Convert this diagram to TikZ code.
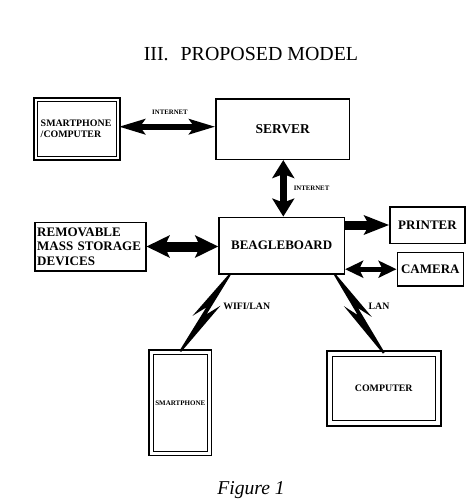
\documentclass[tikz,border=0pt]{standalone}
\usepackage{fontspec}
\setmainfont{Liberation Serif}
\usetikzlibrary{arrows.meta, calc}
\tikzset{
  every picture/.style={line width=1.6pt},
  box/.style={draw, inner sep=0pt, align=center, font=\bfseries\fontsize{13}{14.4}\selectfont},
  dbox/.style={box, double, double distance=#1, line width=1.5pt},
  dbox/.default=2.2pt,
  link/.style={font=\bfseries\fontsize{9.8}{11}\selectfont, inner sep=0pt},
  tag/.style={font=\bfseries\fontsize{6.8}{8}\selectfont, inner sep=0pt},
  twoway/.style n args={4}{line width=#1, >={Stealth[length=#2, width=#3, inset=#4]}, <->},
  oneway/.style n args={4}{line width=#1, >={Stealth[length=#2, width=#3, inset=#4]}, ->},
}

\begin{document}
\begin{tikzpicture}[x=1pt, y=-1pt]
  \newcommand{\boltlink}[3]{% from, to, side of the upper point (90 or -90)
    \fill ($(#1)!0!(#2)!1pt!#3:(#2)$) -- ($(#1)!0.5!(#2)!2pt!#3:(#2)$)
      -- ($(#1)!0.34!(#2)!9pt!#3:(#2)$) -- ($(#1)!1!(#2)!-1pt!#3:(#1)$)
      -- ($(#1)!1!(#2)!1pt!#3:(#1)$) -- ($(#1)!0.44!(#2)!-2pt!#3:(#2)$)
      -- ($(#1)!0.6!(#2)!-9pt!#3:(#2)$) -- ($(#1)!0!(#2)!-1pt!#3:(#2)$) -- cycle;
  }
  \useasboundingbox (0,0) rectangle (469,499);
  \node[anchor=base, font=\fontsize{19.9}{24}\selectfont] (title) at (251,60) {III.\hspace{0.6em}PROPOSED MODEL};
  % upper row
  \node[dbox, align=left, text width=72.5pt, inner xsep=4.9pt, minimum height=58.3pt,
        font=\bfseries\fontsize{9.9}{11.3}\selectfont] (remote) at (77,129) {SMARTPHONE\\/COMPUTER};
  \node[box, minimum width=133.3pt, minimum height=60.6pt, font=\bfseries\fontsize{13.5}{15}\selectfont] (server) at (282.7,129) {SERVER};
  % middle row
  \node[box, minimum width=125.3pt, minimum height=56.7pt] (beagle) at (281.7,245.7) {BEAGLEBOARD};
  \node[box, align=left, text width=106pt, inner xsep=2.5pt, minimum height=48.4pt] (storage) at (90.2,246.5)
    {\mbox{REMOVABLE}\\\mbox{MASS STORAGE}\\\mbox{DEVICES}};
  \node[box, minimum width=75pt, minimum height=36.6pt] (printer) at (427.5,225) {PRINTER};
  \node[box, minimum width=66pt, minimum height=33.7pt] (camera) at (430.3,269.2) {CAMERA};
  % lower row
  \node[dbox=2.8pt, minimum width=58.4pt, minimum height=101.4pt, font=\bfseries\fontsize{7}{8}\selectfont] (phone) at (180.3,402.8) {SMARTPHONE};
  \node[dbox=4pt, minimum width=108.5pt, minimum height=69.5pt, font=\bfseries\fontsize{9.9}{11}\selectfont] (computer) at (383.75,388.5) {COMPUTER};
  % connections
  \draw[twoway={6pt}{26pt}{15pt}{5pt}] ([yshift=2.3pt]remote.east) -- ([yshift=2.3pt]server.west);
  \node[tag] (net1) at (170,112) {INTERNET};
  \draw[twoway={7pt}{18pt}{22pt}{4pt}] ([xshift=0.6pt]server.south) -- ([xshift=0.6pt]server.south |- beagle.north);
  \node[tag, anchor=west] (net2) at (293,188) {INTERNET};
  \draw[twoway={10pt}{23pt}{22pt}{5pt}] (storage.east) -- (storage.east -| beagle.west);
  \draw[oneway={9pt}{25pt}{19pt}{5pt}] (beagle.east |- printer.west) -- (printer.west);
  \draw[twoway={5pt}{18pt}{17pt}{4pt}] (beagle.east |- camera.west) -- (camera.west);
  \coordinate (wifi) at ($(beagle.south west)!0.09!(beagle.south east)$);
  \coordinate (lan) at ($(beagle.south west)!0.92!(beagle.south east)$);
  \boltlink{wifi}{phone.north}{90}
  \boltlink{lan}{computer.north}{-90}
  \node[link] (wifilabel) at (246.7,306) {WIFI/LAN};
  \node[link] (lanlabel) at (379,306) {LAN};
  \node[anchor=base, font=\itshape\fontsize{19.6}{22}\selectfont] (caption) at (251,494.5) {Figure 1};
\end{tikzpicture}
\end{document}
